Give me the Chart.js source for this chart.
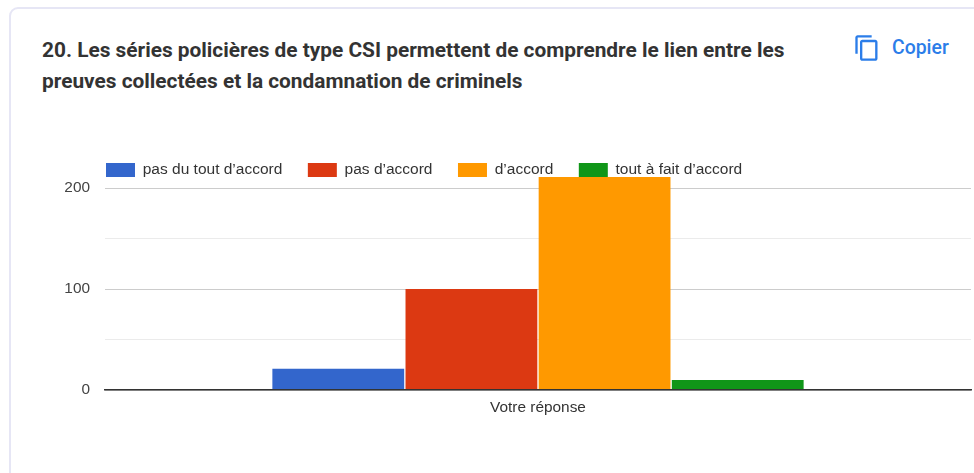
<!DOCTYPE html>
<html lang="fr">
<head>
<meta charset="utf-8">
<script src="https://cdn.jsdelivr.net/npm/chart.js@4"></script>
<style>
html,body{margin:0;padding:0;background:#fff;width:974px;height:473px;overflow:hidden}
#card{position:absolute;left:9px;top:7px;width:1000px;height:500px;box-sizing:border-box;border:2px solid #e6e6f5;border-radius:9px 0 0 0;background:#fff}
#title{position:absolute;left:42px;top:35px;width:770px;font:700 20.85px/31px Roboto,sans-serif;color:#333;margin:0}
#copy{position:absolute;left:892px;top:36px;font:500 19.4px/24px Roboto,sans-serif;color:#2b7de9}
#icon{position:absolute;left:852.7px;top:33.8px}
canvas{position:absolute;left:0;top:0}
</style>
</head>
<body>
<div id="card"></div>
<h1 id="title">20. Les séries policières de type CSI permettent de comprendre le lien entre les preuves collectées et la condamnation de criminels</h1>
<svg id="icon" width="28" height="28" viewBox="0 0 24 24"><path fill="#2b7de9" d="M16 1H4c-1.1 0-2 .9-2 2v14h2V3h12V1zm3 4H8c-1.1 0-2 .9-2 2v14c0 1.1.9 2 2 2h11c1.1 0 2-.9 2-2V7c0-1.1-.9-2-2-2zm0 16H8V7h11v14z"/></svg>
<div id="copy">Copier</div>
<canvas id="c" width="974" height="473"></canvas>
<script>
const categories = ['Votre réponse'];
const pasDuToutDaccord = [21];
const pasDaccord = [100];
const daccord = [211];
const toutAFaitDaccord = [10];
const yTickLabels = [0, 100, 200];

const font = {family: '"Liberation Sans", Arial, sans-serif', size: 15.5};
const legendFit = {
  id: 'legendFit',
  beforeLayout(chart) {
    const legend = chart.legend;
    if (!legend.fitWrapped) {
      const fit = legend.fit;
      legend.fit = function () { fit.call(this); this.height = 38.2; };
      legend.fitWrapped = true;
    }
  },
  afterLayout(chart) {
    chart.legend.left = 80.5;
    chart.legend.bottom = 185;
  }
};
function ds(label, data, color) {
  return {label, data, backgroundColor: color, borderWidth: 0, barPercentage: 0.99, categoryPercentage: 0.615};
}
new Chart(document.getElementById('c'), {
  type: 'bar',
  plugins: [legendFit],
  data: {
    labels: categories,
    datasets: [
      ds('pas du tout d’accord', pasDuToutDaccord, '#3366cc'),
      ds('pas d’accord', pasDaccord, '#dc3912'),
      ds('d’accord', daccord, '#ff9900'),
      ds('tout à fait d’accord', toutAFaitDaccord, '#109618')
    ]
  },
  options: {
    responsive: false,
    animation: false,
    layout: {padding: {left: 50, top: 136.8, right: 3, bottom: 53}},
    plugins: {
      tooltip: {enabled: false},
      legend: {
        position: 'top',
        align: 'start',
        padding: 0,
        labels: {boxWidth: 29, boxHeight: 14, padding: 25.5, color: '#333', font}
      }
    },
    scales: {
      x: {
        afterFit(s) { s.height = 30; s.paddingLeft = 0; s.paddingRight = 0; },
        grid: {display: false},
        border: {display: true, color: '#333', width: 1.5, z: 1},
        ticks: {color: '#333', font: {...font, size: 15.4}, padding: 1, maxRotation: 0}
      },
      y: {
        min: 0,
        max: 213,
        afterBuildTicks(s) {
          s.ticks = s.ticks.filter(t => t.value <= 200);
          s.min = 0;
          s.max = 213;
        },
        afterFit(s) { s.width = 55; s.paddingTop = 0; s.paddingBottom = 0; },
        border: {display: false},
        grid: {
          drawTicks: false,
          color(ctx) { return yTickLabels.includes(ctx.tick.value) ? '#cccccc' : '#ebebeb'; }
        },
        ticks: {
          stepSize: 50,
          includeBounds: false,
          padding: 15,
          color: '#444',
          font: {...font, size: 15.4},
          callback(v) { return yTickLabels.includes(v) ? String(v) : ''; }
        }
      }
    }
  }
});
</script>
</body>
</html>
